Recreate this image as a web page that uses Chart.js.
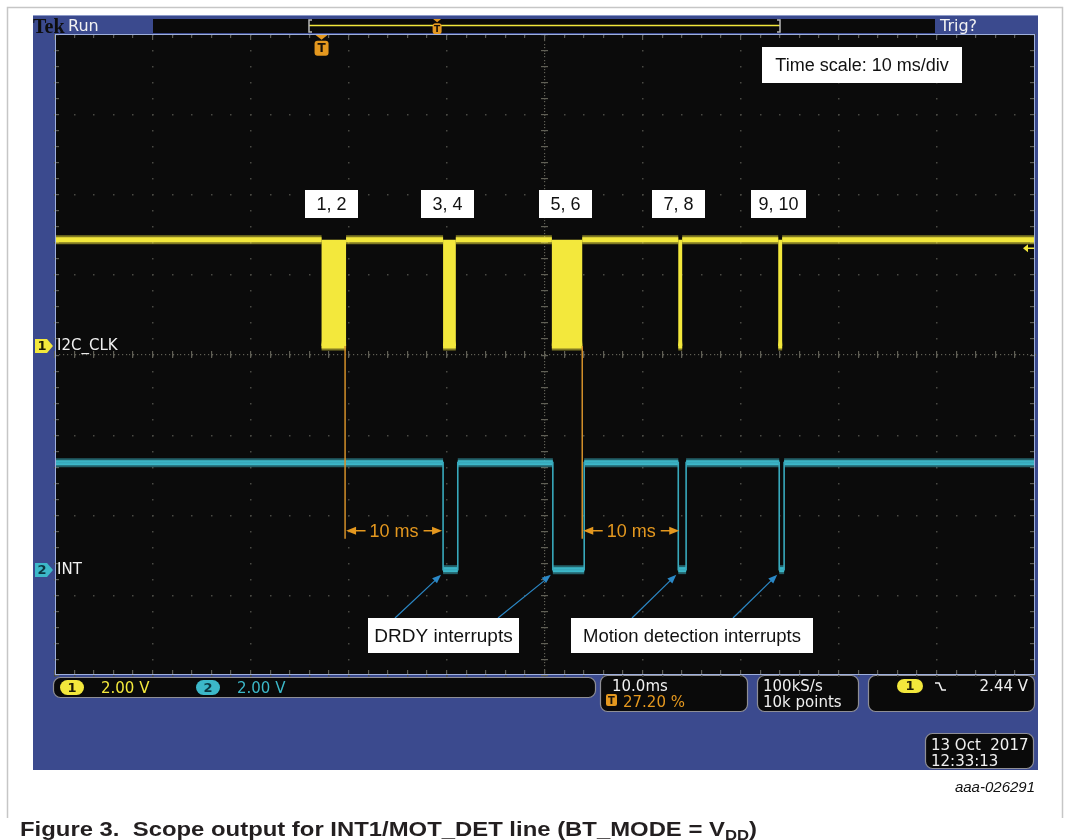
<!DOCTYPE html>
<html>
<head>
<meta charset="utf-8">
<title>Scope output for INT1/MOT_DET line</title>
<script src="https://cdn.jsdelivr.net/npm/chart.js@4.4.1/dist/chart.umd.min.js"></script>
<style>
  html, body { margin: 0; padding: 0; background: #ffffff; }
  canvas { display: block; }
</style>
</head>
<body>
<canvas id="scope" width="1069" height="840"></canvas>
<script>
// ---- acquisition settings ----
const timeWindowMs = [-27.2, 72.8];   // 10 divisions, trigger at 27.20 % of the record
const timePerDivMs = 10;
const triggerPercent = 27.20;
const voltsPerDiv = [2.0, 2.0];
const channelOffsetDiv = [0.106, -2.685];
const channelNames = ['I2C_CLK', 'INT'];
const channelColors = ['#f3e83c', '#3cb8c9'];
const triggerLevelV = 2.44;

// ---- channel 1: I2C clock bursts (ms) ----
const clkHighV = 2.65;
const clkLowV = 0.0;
const clkBurstStartMs = [0.0, 12.4, 23.5, 36.4, 46.6];
const clkBurstEndMs   = [2.5, 13.7, 26.6, 36.8, 47.0];
const clkBurstLabels  = ['1, 2', '3, 4', '5, 6', '7, 8', '9, 10'];

// ---- channel 2: INT line low pulses (ms) ----
const intHighV = 2.67;
const intLowV = 0.0;
const intPulseStartMs = [12.4, 23.6, 36.4, 46.7];
const intPulseEndMs   = [13.9, 26.8, 37.2, 47.2];

// ---- cursor measurements ----
const cursorStartMs = [2.4, 26.6];
const cursorSpanMs  = [10, 10];
const cursorSpanLabels = ['10 ms', '10 ms'];

// ---- readouts ----
const statusTexts = {
  ch1Scale: '2.00 V', ch2Scale: '2.00 V',
  timebase: '10.0ms', trigPos: '27.20 %',
  rate: '100kS/s', points: '10k points',
  trigLevel: '2.44 V',
  date: '13 Oct  2017', time: '12:33:13'
};

function toDiv(v, ch) { return v / voltsPerDiv[ch] + channelOffsetDiv[ch]; }

function stepTrace(starts, ends, hi, lo, ch) {
  const h = toDiv(hi, ch), l = toDiv(lo, ch);
  const pts = [{ x: timeWindowMs[0], y: h }];
  starts.forEach((s, i) => {
    pts.push({ x: s, y: h }, { x: s, y: l }, { x: ends[i], y: l }, { x: ends[i], y: h });
  });
  pts.push({ x: timeWindowMs[1], y: h });
  return pts;
}

const clkTrace = stepTrace(clkBurstStartMs, clkBurstEndMs, clkHighV, clkLowV, 0);
const intTrace = stepTrace(intPulseStartMs, intPulseEndMs, intHighV, intLowV, 1);

// flat parts only (vertical edges hidden) for the thick noisy band
const flatOnly = (color) => ({
  borderColor: (ctx) => (ctx.p0.parsed.x === ctx.p1.parsed.x ? 'rgba(0,0,0,0)' : color)
});

const PANEL = '#3b4a8e';
const ORANGE = '#e4981f';
const CALLOUT = '#2b88c6';

function roundRect(ctx, x, y, w, h, r) {
  ctx.beginPath();
  ctx.moveTo(x + r, y);
  ctx.lineTo(x + w - r, y);
  ctx.arcTo(x + w, y, x + w, y + r, r);
  ctx.lineTo(x + w, y + h - r);
  ctx.arcTo(x + w, y + h, x + w - r, y + h, r);
  ctx.lineTo(x + r, y + h);
  ctx.arcTo(x, y + h, x, y + h - r, r);
  ctx.lineTo(x, y + r);
  ctx.arcTo(x, y, x + r, y, r);
  ctx.closePath();
}

function pill(ctx, x, y, w, h, fill, text, textColor) {
  roundRect(ctx, x, y, w, h, h / 2);
  ctx.fillStyle = fill;
  ctx.fill();
  ctx.fillStyle = textColor;
  ctx.font = 'bold 13px "DejaVu Sans"';
  ctx.textAlign = 'center';
  ctx.textBaseline = 'middle';
  ctx.fillText(text, x + w / 2, y + h / 2 + 1);
}

function readoutBox(ctx, x, y, w, h) {
  roundRect(ctx, x + 0.5, y + 0.5, w, h, 7);
  ctx.fillStyle = '#0a0a0a';
  ctx.fill();
  ctx.strokeStyle = '#8f8f96';
  ctx.lineWidth = 1.2;
  ctx.stroke();
}

function whiteLabel(ctx, x, y, w, h, text, font) {
  ctx.fillStyle = '#ffffff';
  ctx.fillRect(x, y, w, h);
  ctx.fillStyle = '#111111';
  ctx.font = font;
  ctx.textAlign = 'center';
  ctx.textBaseline = 'middle';
  ctx.fillText(text, x + w / 2, y + h / 2 + 1);
}

function arrowHead(ctx, x, y, dx, dy, len, half, color) {
  const n = Math.hypot(dx, dy), ux = dx / n, uy = dy / n;
  ctx.beginPath();
  ctx.moveTo(x, y);
  ctx.lineTo(x - ux * len - uy * half, y - uy * len + ux * half);
  ctx.lineTo(x - ux * len + uy * half, y - uy * len - ux * half);
  ctx.closePath();
  ctx.fillStyle = color;
  ctx.fill();
}

function trigMarker(ctx, x, top, bodyW, bodyH, tri) {
  ctx.fillStyle = ORANGE;
  ctx.beginPath();
  ctx.moveTo(x - tri, top); ctx.lineTo(x + tri, top); ctx.lineTo(x, top + tri * 0.8);
  ctx.closePath(); ctx.fill();
  roundRect(ctx, x - bodyW / 2, top + tri * 0.8 + 1, bodyW, bodyH, 3);
  ctx.fill();
  ctx.fillStyle = '#1a1208';
  ctx.font = 'bold ' + Math.round(bodyH * 0.8) + 'px "DejaVu Sans"';
  ctx.textAlign = 'center';
  ctx.textBaseline = 'middle';
  ctx.fillText('T', x, top + tri * 0.8 + 1 + bodyH / 2 + 1);
}

const scopeScreen = {
  id: 'scopeScreen',
  beforeDraw(chart) {
    const ctx = chart.ctx, a = chart.chartArea;
    ctx.save();
    ctx.fillStyle = '#ffffff';
    ctx.fillRect(0, 0, chart.width, chart.height);

    // figure frame
    ctx.strokeStyle = '#c6c6c6';
    ctx.lineWidth = 1.5;
    ctx.beginPath();
    ctx.moveTo(7.5, 818); ctx.lineTo(7.5, 7.5); ctx.lineTo(1062.5, 7.5); ctx.lineTo(1062.5, 818);
    ctx.stroke();

    // instrument bezel
    ctx.fillStyle = PANEL;
    ctx.fillRect(33, 15, 1005, 755);
    ctx.fillStyle = '#8c9ac8';
    ctx.fillRect(33, 15, 1005, 1);

    // top status bar
    ctx.fillStyle = '#0a0a0a';
    ctx.fillRect(153, 19, 782, 14);
    ctx.font = 'bold 20px "Liberation Serif", serif';
    ctx.fillStyle = '#0d0d0d';
    ctx.textAlign = 'left';
    ctx.textBaseline = 'alphabetic';
    ctx.fillText('Tek', 33, 33);
    ctx.font = '16px "DejaVu Sans"';
    ctx.fillStyle = '#f2f2f2';
    ctx.fillText('Run', 68, 31);
    ctx.fillText('Trig?', 940, 31);

    // record view: bracket + waveform + trigger position
    const r0 = 309, r1 = 780;
    ctx.strokeStyle = channelColors[0];
    ctx.lineWidth = 1.5;
    ctx.beginPath(); ctx.moveTo(r0, 25.5); ctx.lineTo(r1, 25.5); ctx.stroke();
    ctx.strokeStyle = '#b8b8b8';
    ctx.lineWidth = 1.5;
    ctx.beginPath();
    ctx.moveTo(r0 + 3, 20); ctx.lineTo(r0, 20); ctx.lineTo(r0, 32); ctx.lineTo(r0 + 3, 32);
    ctx.moveTo(r1 - 3, 20); ctx.lineTo(r1, 20); ctx.lineTo(r1, 32); ctx.lineTo(r1 - 3, 32);
    ctx.stroke();
    trigMarker(ctx, r0 + (r1 - r0) * triggerPercent / 100, 19, 9, 11, 4);

    // graticule background
    ctx.fillStyle = '#0b0b0b';
    ctx.fillRect(a.left, a.top, a.right - a.left, a.bottom - a.top);

    // readouts along the bottom
    readoutBox(ctx, 53, 677, 542, 20);
    pill(ctx, 60, 680, 24, 15, channelColors[0], '1', '#1c1a05');
    pill(ctx, 196, 680, 24, 15, channelColors[1], '2', '#0b3640');
    ctx.font = '15px "DejaVu Sans"';
    ctx.textAlign = 'left';
    ctx.textBaseline = 'alphabetic';
    ctx.fillStyle = channelColors[0];
    ctx.fillText(statusTexts.ch1Scale, 101, 693);
    ctx.fillStyle = channelColors[1];
    ctx.fillText(statusTexts.ch2Scale, 237, 693);

    readoutBox(ctx, 600, 675, 147, 36);
    ctx.font = '15px "DejaVu Sans"';
    ctx.fillStyle = '#f0f0f0';
    ctx.textAlign = 'left';
    ctx.fillText(statusTexts.timebase, 612, 691);
    roundRect(ctx, 606, 694, 11, 12, 2);
    ctx.fillStyle = ORANGE; ctx.fill();
    ctx.fillStyle = '#1a1208';
    ctx.font = 'bold 10px "DejaVu Sans"';
    ctx.textAlign = 'center';
    ctx.fillText('T', 611.5, 704);
    ctx.font = '15px "DejaVu Sans"';
    ctx.textAlign = 'left';
    ctx.fillStyle = ORANGE;
    ctx.fillText(statusTexts.trigPos, 623, 707);

    readoutBox(ctx, 757, 675, 101, 36);
    ctx.fillStyle = '#f0f0f0';
    ctx.fillText(statusTexts.rate, 763, 691);
    ctx.fillText(statusTexts.points, 763, 707);

    readoutBox(ctx, 868, 675, 166, 36);
    pill(ctx, 897, 679, 26, 14, channelColors[0], '1', '#1c1a05');
    ctx.strokeStyle = '#f0f0f0';
    ctx.lineWidth = 1.6;
    ctx.beginPath();
    ctx.moveTo(935, 683); ctx.lineTo(939, 683); ctx.lineTo(942, 690); ctx.lineTo(946, 690);
    ctx.stroke();
    ctx.font = '15px "DejaVu Sans"';
    ctx.fillStyle = '#f0f0f0';
    ctx.textAlign = 'right';
    ctx.textBaseline = 'alphabetic';
    ctx.fillText(statusTexts.trigLevel, 1028, 691);

    readoutBox(ctx, 925, 733, 108, 35);
    ctx.textAlign = 'left';
    ctx.fillStyle = '#f0f0f0';
    ctx.fillText(statusTexts.date, 931, 750);
    ctx.fillText(statusTexts.time, 931, 766);

    // figure id and caption
    ctx.font = 'italic 15px "Liberation Sans", Arial, sans-serif';
    ctx.fillStyle = '#111111';
    ctx.textAlign = 'right';
    ctx.fillText('aaa-026291', 1035, 792);

    const main = 'Figure 3.  Scope output for INT1/MOT_DET line (BT_MODE = V';
    ctx.textAlign = 'left';
    ctx.font = 'bold 20px "Liberation Sans", Arial, sans-serif';
    const w1 = ctx.measureText(main).width;
    const w3 = ctx.measureText(')').width;
    ctx.font = 'bold 14px "Liberation Sans", Arial, sans-serif';
    const w2 = ctx.measureText('DD').width;
    const sx = 737 / (w1 + w2 + w3);
    ctx.save();
    ctx.translate(20, 836);
    ctx.scale(sx, 1);
    ctx.fillStyle = '#231f20';
    ctx.font = 'bold 20px "Liberation Sans", Arial, sans-serif';
    ctx.fillText(main, 0, 0);
    ctx.fillText(')', w1 + w2, 0);
    ctx.font = 'bold 14px "Liberation Sans", Arial, sans-serif';
    ctx.fillText('DD', w1, 4);
    ctx.restore();
    ctx.restore();
  },

  beforeDatasetsDraw(chart) {
    const ctx = chart.ctx, a = chart.chartArea;
    const xs = chart.scales.x, ys = chart.scales.y;
    const xLines = [], yLines = [];
    for (let i = 0; i <= 10; i++) xLines.push(xs.getPixelForValue(timeWindowMs[0] + i * timePerDivMs));
    for (let j = 0; j <= 8; j++) yLines.push(ys.getPixelForValue(-4 + j));
    const dw = (xLines[10] - xLines[0]) / 10, dh = (yLines[0] - yLines[8]) / 8;
    ctx.save();
    ctx.fillStyle = '#4a4a44';
    // dotted division lines
    xLines.forEach((x) => {
      for (let k = 0; k <= 40; k++) ctx.fillRect(Math.round(x) - 1, Math.round(a.top + k * dh / 5), 1.5, 1.5);
    });
    yLines.forEach((y) => {
      for (let k = 0; k <= 50; k++) ctx.fillRect(Math.round(a.left + k * dw / 5) - 1, Math.round(y), 1.5, 1.5);
    });
    // centre cross with minor ticks
    const cx = xLines[5], cy = yLines[4];
    ctx.fillStyle = '#605f55';
    for (let k = 0; k <= 250; k++) ctx.fillRect(Math.round(a.left + k * dw / 25), Math.round(cy) - 1, 1.2, 1.2);
    for (let k = 0; k <= 200; k++) ctx.fillRect(Math.round(cx) - 1, Math.round(a.top + k * dh / 25), 1.2, 1.2);
    for (let k = 0; k <= 50; k++) ctx.fillRect(Math.round(a.left + k * dw / 5) - 1, Math.round(cy) - 4, 1.2, 7);
    for (let k = 0; k <= 40; k++) ctx.fillRect(Math.round(cx) - 4, Math.round(a.top + k * dh / 5), 7, 1.2);
    // border ticks
    ctx.fillStyle = '#5d5d58';
    for (let k = 0; k <= 50; k++) {
      const x = Math.round(a.left + k * dw / 5) - 1;
      ctx.fillRect(x, a.top, 1.2, k % 5 === 0 ? 6 : 4);
      ctx.fillRect(x, a.bottom - 5, 1.2, 5);
    }
    for (let k = 0; k <= 40; k++) {
      const y = Math.round(a.top + k * dh / 5);
      ctx.fillRect(a.left, y, 4, 1.2);
      ctx.fillRect(a.right - 5, y, 5, 1.2);
    }
    ctx.restore();
  },

  afterDatasetsDraw(chart) {
    const ctx = chart.ctx, a = chart.chartArea;
    const xs = chart.scales.x, ys = chart.scales.y;
    const px = (t) => xs.getPixelForValue(t);
    const py = (d) => ys.getPixelForValue(d);
    ctx.save();

    // time cursors and their spans
    const cursorTop = py(toDiv(clkLowV, 0));
    const spanY = py(-2.2);
    ctx.font = '18px "Liberation Sans", Arial, sans-serif';
    cursorStartMs.forEach((t0, i) => {
      const x0 = px(t0), x1 = px(t0 + cursorSpanMs[i]);
      ctx.strokeStyle = '#d4902a';
      ctx.lineWidth = 1.5;
      ctx.beginPath(); ctx.moveTo(x0, cursorTop); ctx.lineTo(x0, spanY + 8); ctx.stroke();
      const label = cursorSpanLabels[i];
      const tw = ctx.measureText(label).width;
      const mid = (x0 + x1) / 2;
      ctx.strokeStyle = ORANGE;
      ctx.lineWidth = 1.4;
      ctx.beginPath();
      ctx.moveTo(x0 + 6, spanY); ctx.lineTo(mid - tw / 2 - 4, spanY);
      ctx.moveTo(mid + tw / 2 + 5, spanY); ctx.lineTo(x1 - 6, spanY);
      ctx.stroke();
      arrowHead(ctx, x0 + 1, spanY, -1, 0, 10, 4, ORANGE);
      arrowHead(ctx, x1 - 1, spanY, 1, 0, 10, 4, ORANGE);
      ctx.fillStyle = ORANGE;
      ctx.textAlign = 'center';
      ctx.textBaseline = 'middle';
      ctx.fillText(label, mid, spanY + 1);
    });

    // callouts to the INT pulses
    const tails = [[395, 618], [498, 618], [632, 618], [733, 618]];
    intPulseStartMs.forEach((t, i) => {
      const tx = px(t) - 2, ty = py(toDiv(intLowV, 1)) + 5;
      ctx.strokeStyle = CALLOUT;
      ctx.lineWidth = 1.2;
      ctx.beginPath(); ctx.moveTo(tails[i][0], tails[i][1]); ctx.lineTo(tx - 4, ty + 4); ctx.stroke();
      arrowHead(ctx, tx, ty, tx - tails[i][0], ty - tails[i][1], 9, 3.5, CALLOUT);
    });

    // burst numbers
    ctx.font = '18px "Liberation Sans", Arial, sans-serif';
    clkBurstLabels.forEach((lab, i) => {
      const c = px((clkBurstStartMs[i] + clkBurstEndMs[i]) / 2) - 2;
      const w = Math.max(53, ctx.measureText(lab).width + 15);
      whiteLabel(ctx, Math.round(c - w / 2), 190, Math.round(w), 28, lab, '18px "Liberation Sans", Arial, sans-serif');
    });

    whiteLabel(ctx, 762, 47, 200, 36, 'Time scale: 10 ms/div', '18px "Liberation Sans", Arial, sans-serif');
    whiteLabel(ctx, 368, 618, 151, 35, 'DRDY interrupts', '19px "Liberation Sans", Arial, sans-serif');
    whiteLabel(ctx, 571, 618, 242, 35, 'Motion detection interrupts', '18.5px "Liberation Sans", Arial, sans-serif');

    // graticule border
    ctx.strokeStyle = '#9fb0dc';
    ctx.lineWidth = 1;
    ctx.strokeRect(a.left + 0.5, a.top + 0.5, a.right - a.left - 1, a.bottom - a.top - 1);

    // channel ground markers and names
    [0, 1].forEach((ch) => {
      const y = Math.round(py(channelOffsetDiv[ch]));
      ctx.beginPath();
      ctx.moveTo(35, y - 7); ctx.lineTo(47, y - 7); ctx.lineTo(53, y); ctx.lineTo(47, y + 7); ctx.lineTo(35, y + 7);
      ctx.closePath();
      ctx.fillStyle = channelColors[ch];
      ctx.fill();
      ctx.fillStyle = ch === 0 ? '#1c1a05' : '#0b3640';
      ctx.font = 'bold 13px "DejaVu Sans"';
      ctx.textAlign = 'center';
      ctx.textBaseline = 'middle';
      ctx.fillText(String(ch + 1), 42, y + 1);
      ctx.fillStyle = '#f2f2f2';
      ctx.font = '15px "DejaVu Sans"';
      ctx.textAlign = 'left';
      ctx.fillText(channelNames[ch], 57, y);
    });

    // trigger position (top) and trigger level (right edge)
    trigMarker(ctx, px(0), a.top + 1, 14, 15, 6);
    const ty = py(toDiv(triggerLevelV, 0));
    ctx.strokeStyle = channelColors[0];
    ctx.lineWidth = 1.5;
    ctx.beginPath(); ctx.moveTo(a.right - 8, ty); ctx.lineTo(a.right - 1, ty); ctx.stroke();
    arrowHead(ctx, a.right - 12, ty, -1, 0, 5, 4, channelColors[0]);
    ctx.restore();
  }
};

new Chart(document.getElementById('scope'), {
  type: 'line',
  data: {
    datasets: [
      { // clock bursts drawn as solid blocks between high and low level
        data: clkTrace, borderWidth: 0, borderColor: 'rgba(0,0,0,0)',
        backgroundColor: channelColors[0], fill: { value: toDiv(clkHighV, 0) }, order: 6
      },
      { data: clkTrace, borderWidth: 9, borderColor: 'rgba(243,232,60,0.5)', segment: flatOnly('rgba(243,232,60,0.5)'), fill: false, order: 5 },
      { data: clkTrace, borderWidth: 5, borderColor: channelColors[0], segment: flatOnly(channelColors[0]), fill: false, order: 4 },
      { data: intTrace, borderWidth: 9, borderColor: 'rgba(60,184,201,0.5)', segment: flatOnly('rgba(60,184,201,0.5)'), fill: false, order: 3 },
      { data: intTrace, borderWidth: 5, borderColor: channelColors[1], segment: flatOnly(channelColors[1]), fill: false, order: 2 },
      { data: intTrace, borderWidth: 1.6, borderColor: '#38a9bc', fill: false, order: 1 }
    ]
  },
  options: {
    responsive: false,
    animation: false,
    devicePixelRatio: 1,
    parsing: true,
    layout: { padding: { left: 55, top: 34, right: 34, bottom: 165 } },
    elements: { point: { radius: 0, hoverRadius: 0 }, line: { tension: 0, borderJoinStyle: 'miter', borderCapStyle: 'butt' } },
    scales: {
      x: { type: 'linear', min: timeWindowMs[0], max: timeWindowMs[1], display: false },
      y: { type: 'linear', min: -4, max: 4, display: false }
    },
    plugins: { legend: { display: false }, tooltip: { enabled: false }, title: { display: false } },
    events: []
  },
  plugins: [scopeScreen]
});
</script>
</body>
</html>
